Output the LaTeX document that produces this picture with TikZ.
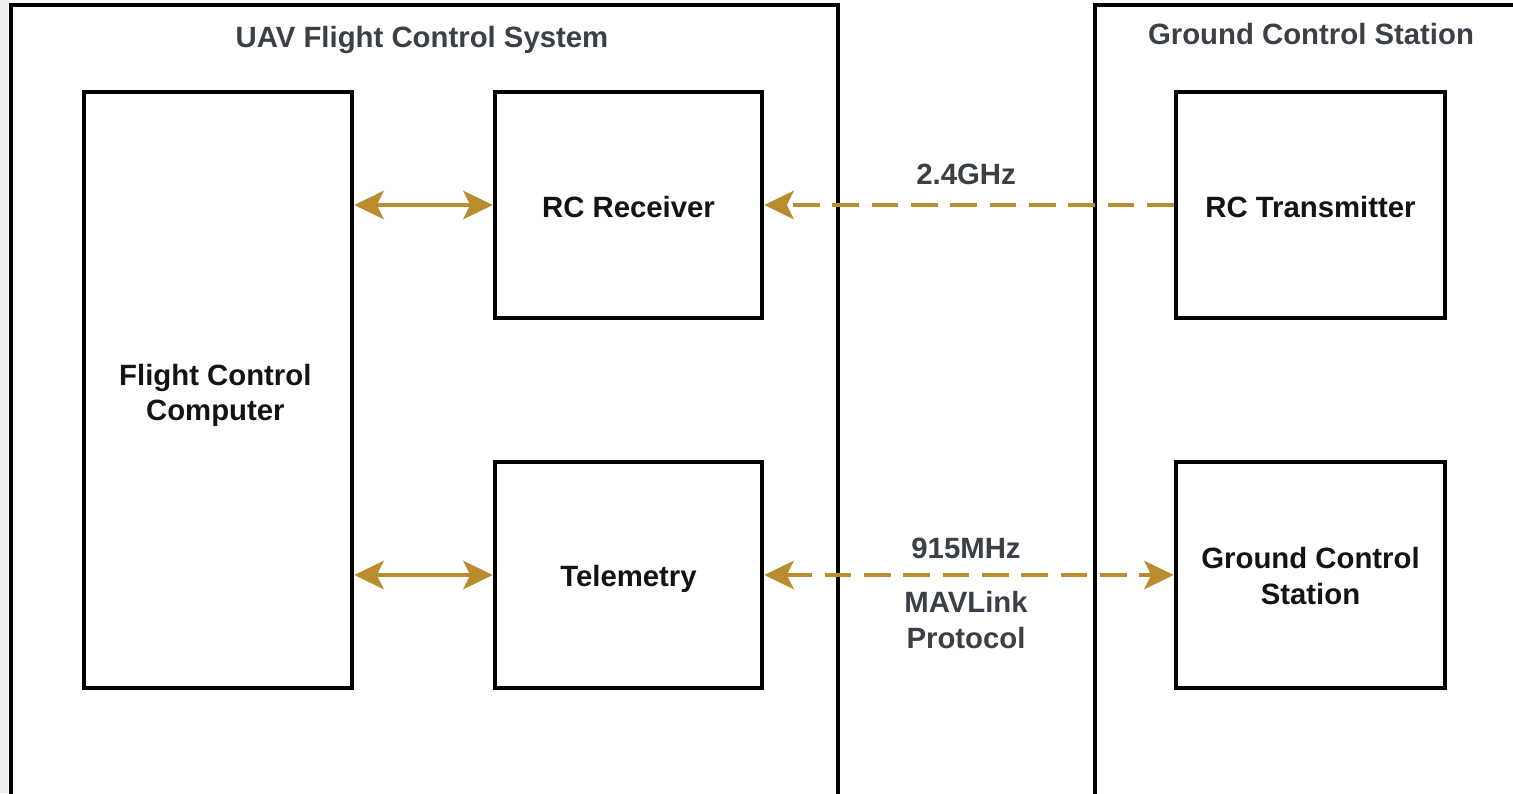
\documentclass[tikz,border=0pt]{standalone}
\usepackage{fontspec}
\setmainfont{Liberation Sans}
\usetikzlibrary{fit,arrows.meta}
\definecolor{linkgold}{HTML}{B98C2E}
\definecolor{labelgrey}{HTML}{3B4046}
\begin{document}
\begin{tikzpicture}[x=0.75pt,y=-0.75pt,
  >={Stealth[length=22pt,width=21pt,inset=5pt]},
  frame/.style={draw=black, line width=3.2pt, inner sep=0pt},
  unitbox/.style={draw=black, line width=3.3pt, inner sep=0pt},
  unittext/.style={align=center, inner sep=0pt,
    font=\fontsize{22}{26.4}\selectfont\bfseries, text=black!92},
  heading/.style={text=labelgrey, font=\fontsize{22}{26.4}\selectfont\bfseries, align=center},
  wire/.style={draw=linkgold, line width=3.7pt},
  radio/.style={wire, dash pattern=on 20pt off 9.5pt}]

  % canvas
  \useasboundingbox (0,0) rectangle (1513,793);
  \fill[white] (0,0) rectangle (1513,793);
  \fill[black!7] (0,0) rectangle (8,793);

  % the two systems
  \node[frame, fit={(11,5) (838,812)}] (uav) {};
  \node[frame, fit={(1095,5) (1535,812)}] (gcs) {};
  \node[heading] (uavtitle) at (422,40) {UAV Flight Control System};
  \node[heading] (gcstitle) at (1311,34) {Ground Control Station};

  % on-board units
  \node[unitbox, fit={(84,92) (352,688)}] (fcc) {};
  \node[unitbox, fit={(495,92) (762,318)}] (rx) {};
  \node[unitbox, fit={(495,462) (762,688)}] (tel) {};
  \node[unittext] (fcctext) at ([xshift=-2pt,yshift=-4pt]fcc.center) {Flight Control\\Computer};
  \node[unittext] (rxtext) at ([yshift=-1.75pt]rx.center) {RC Receiver};
  \node[unittext] (teltext) at ([yshift=-3pt]tel.center) {Telemetry};

  % ground units
  \node[unitbox, fit={(1176,92) (1445,318)}] (tx) {};
  \node[unitbox, fit={(1176,462) (1445,688)}] (station) {};
  \node[unittext] (txtext) at ([yshift=-1.75pt]tx.center) {RC Transmitter};
  \node[unittext] (stationtext) at ([yshift=-0.75pt]station.center) {Ground Control\\Station};

  % wired links inside the aircraft
  \draw[wire, <->] (fcc.east |- rx) -- (rx.west);
  \draw[wire, <->] (fcc.east |- tel) -- (tel.west);

  % radio links
  \draw[radio, ->] (tx.west) -- (rx.east);
  \draw[radio, <->] (tel.east) -- (station.west);

  % link labels
  \node[heading] (rclabel) at (966,174) {2.4GHz};
  \node[heading] (tellabel) at (966,548) {915MHz};
  \node[heading] (protolabel) at (966,620) {MAVLink\\Protocol};
\end{tikzpicture}
\end{document}
